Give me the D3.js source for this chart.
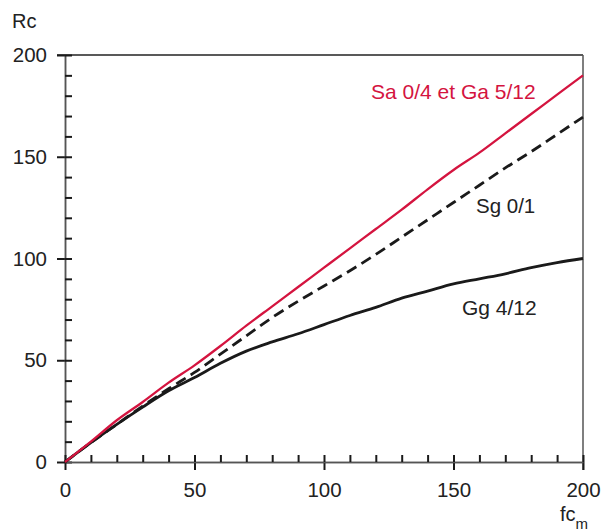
<!DOCTYPE html>
<html>
<head>
<meta charset="utf-8">
<script src="https://cdn.jsdelivr.net/npm/d3@7"></script>
<style>
  html, body { margin: 0; padding: 0; background: #fff; }
  svg text { font-family: "Liberation Sans", Arial, sans-serif; fill: #222; }
</style>
</head>
<body>
<svg id="chart" width="601" height="532"></svg>
<script>
// ---- data ----
const fcm = [0, 10, 20, 30, 40, 50, 60, 70, 80, 90, 100, 110, 120, 130, 140, 150, 160, 170, 180, 190, 200];
const saGa = [0, 10, 20.5, 29.5, 39, 47.5, 57, 67, 76.5, 86, 95.5, 105, 114.5, 124, 134, 143.5, 152, 161.5, 171, 180.5, 190];
const sg01 = [0, 9.5, 18.5, 27.5, 36, 44, 53, 62, 71, 79, 86.5, 94, 102, 110.5, 119, 127.5, 136, 144.5, 152.5, 161, 169.5];
const gg412 = [0, 9.5, 18.5, 27, 35, 41.5, 48.5, 54.5, 59, 63, 67.5, 72, 76, 80.5, 84, 87.5, 90, 92.5, 95.5, 98, 100];
const majorTicks = [0, 50, 100, 150, 200];
const minorTicks = d3.range(0, 201, 10);
const seriesNames = ["Sa 0/4 et Ga 5/12", "Sg 0/1", "Gg 4/12"];
const yTitle = "Rc";
const xTitle = "fc";
const xTitleSub = "m";

// ---- layout ----
const svg = d3.select("#chart");
const margin = {left: 65, right: 18, top: 55, bottom: 70};
const W = 601 - margin.left - margin.right;
const H = 532 - margin.top - margin.bottom;
const g = svg.append("g").attr("transform", `translate(${margin.left},${margin.top})`);

const x = d3.scaleLinear().domain([0, 200]).range([0, W]);
const y = d3.scaleLinear().domain([0, 200]).range([H, 0]);

// ---- frame (top & right) ----
g.append("line").attr("x1", -8).attr("x2", W).attr("y1", 0).attr("y2", 0)
  .attr("stroke", "#222").attr("stroke-width", 1.5);
g.append("line").attr("x1", W).attr("x2", W).attr("y1", 0).attr("y2", H + 8)
  .attr("stroke", "#555").attr("stroke-width", 1.5);

// ---- axes ----
function styleAxis(sel) {
  sel.select(".domain").attr("stroke", "#555").attr("stroke-width", 1.5);
  sel.selectAll(".tick line").attr("stroke", "#1a1a1a").attr("stroke-width", 2);
  sel.selectAll(".tick text").attr("font-size", 20.5).attr("fill", "#222")
     .style("font-family", '"Liberation Sans", Arial, sans-serif');
}

// left: outward major ticks with labels
const yAxisOut = g.append("g")
  .call(d3.axisLeft(y).tickValues(majorTicks).tickSize(8).tickSizeOuter(0).tickPadding(10));
styleAxis(yAxisOut);
// left: inward minor ticks
const yAxisIn = g.append("g")
  .call(d3.axisRight(y).tickValues(minorTicks).tickSize(7).tickSizeOuter(0).tickFormat(""));
styleAxis(yAxisIn);

// bottom: outward major ticks with labels
const xAxisOut = g.append("g").attr("transform", `translate(0,${H})`)
  .call(d3.axisBottom(x).tickValues(majorTicks).tickSize(8).tickSizeOuter(0).tickPadding(12));
styleAxis(xAxisOut);
const xAxisIn = g.append("g").attr("transform", `translate(0,${H})`)
  .call(d3.axisTop(x).tickValues(minorTicks).tickSize(7).tickSizeOuter(0).tickFormat(""));
styleAxis(xAxisIn);

// ---- axis titles ----
svg.append("text").attr("x", 12).attr("y", 28).attr("font-size", 20).text(yTitle);
const xt = svg.append("text").attr("x", 560).attr("y", 521).attr("font-size", 20);
xt.append("tspan").text(xTitle);
xt.append("tspan").attr("font-size", 15).attr("dy", 8).text(xTitleSub);

// ---- lines ----
const line = d3.line().x((d, i) => x(fcm[i])).y(d => y(d)).curve(d3.curveMonotoneX);

g.append("path").datum(gg412).attr("d", line)
  .attr("fill", "none").attr("stroke", "#1a1a1a").attr("stroke-width", 2.8);
g.append("path").datum(sg01).attr("d", line)
  .attr("fill", "none").attr("stroke", "#1a1a1a").attr("stroke-width", 2.8)
  .attr("stroke-dasharray", "11,6");
g.append("path").datum(saGa).attr("d", line)
  .attr("fill", "none").attr("stroke", "#d4143f").attr("stroke-width", 2.3);

// ---- series labels ----
svg.append("text").attr("x", 371).attr("y", 99).attr("font-size", 21)
  .style("fill", "#d4143f").text(seriesNames[0]);
svg.append("text").attr("x", 476).attr("y", 213).attr("font-size", 20.5).text(seriesNames[1]);
svg.append("text").attr("x", 462).attr("y", 315).attr("font-size", 21).text(seriesNames[2]);
</script>
</body>
</html>
